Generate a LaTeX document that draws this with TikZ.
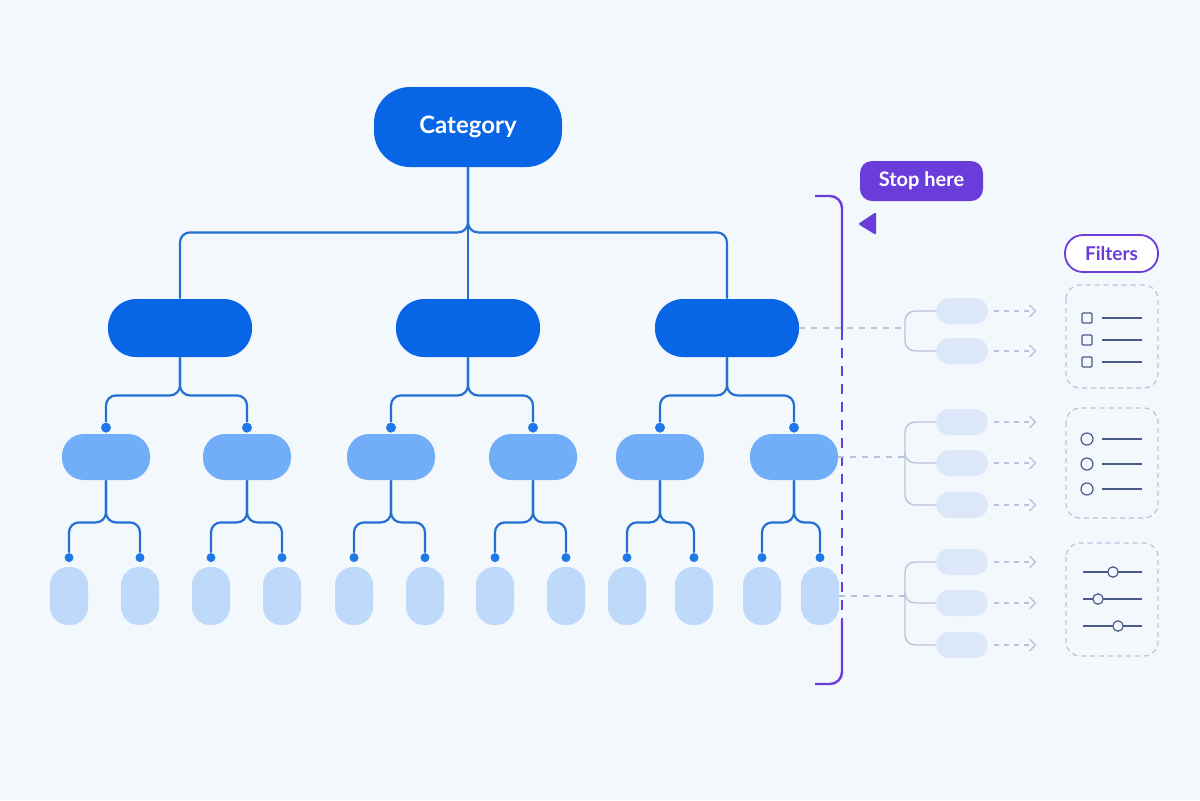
\documentclass[tikz,border=0pt]{standalone}
\usepackage{fontspec}
\setmainfont{Lato}
\usetikzlibrary{arrows.meta,calc}
\definecolor{bgc}{HTML}{F3F8FC}
\definecolor{darkb}{HTML}{0866E6}
\definecolor{midb}{HTML}{72ADF7}
\definecolor{lightb}{HTML}{BED9FA}
\definecolor{paleb}{HTML}{DCE8FA}
\definecolor{lineb}{HTML}{2470D0}
\definecolor{dotb}{HTML}{1F78E8}
\definecolor{purp}{HTML}{6A3DDB}
\definecolor{greyl}{HTML}{B9C3DC}
\definecolor{slate}{HTML}{4A5A8A}
\begin{document}
\begin{tikzpicture}[x=0.5pt,y=-0.5pt]
        \tikzset{
          box/.style={draw=none,inner sep=0pt,text=white,font=\bfseries},
          top/.style={box,fill=darkb,minimum width=94pt,minimum height=40pt,rounded corners=18pt,font=\fontsize{12}{14}\bfseries\selectfont},
          lvla/.style={box,fill=darkb,minimum width=72pt,minimum height=29pt,rounded corners=14pt},
          lvlb/.style={box,fill=midb,minimum width=44pt,minimum height=23pt,rounded corners=11pt},
          lvlc/.style={box,fill=lightb,minimum width=19pt,minimum height=29pt,rounded corners=9pt},
          mini/.style={box,fill=paleb,minimum width=26pt,minimum height=13pt,rounded corners=6.5pt},
          tree/.style={lineb,line width=1.1pt,rounded corners=5pt},
          ftree/.style={greyl,line width=0.7pt,rounded corners=5pt},
          dot/.style={circle,fill=dotb,inner sep=0pt,minimum size=#1},
          icon/.style={slate,line width=0.6pt},
        }
        %BACKGROUND
        \fill[bgc] (0,0) rectangle (1200,800);
        %NODES
        \node[top] (cat) at (468,127) {Category};
        \foreach \x [count=\i] in {180,468,727}{
            \node[lvla] (m\i) at (\x,328) {};
        }
        \foreach \x [count=\i] in {106,247,391,533,660,794}{
            \node[lvlb] (s\i) at (\x,457) {};
            \node[dot=5pt] (ds\i) at ($(s\i.north)+(0,-6)$) {};
        }
        \foreach \x [count=\i] in {69,140,211,282,354,425,495,566,627,694,762,820}{
            \node[lvlc] (t\i) at (\x,596) {};
            \node[dot=4.5pt] (dt\i) at ($(t\i.north)+(0,-9)$) {};
        }
        %TREE
        \draw[tree] (cat.south) -- ++(0,65) -| (m1.north);
        \draw[tree] (cat.south) -- ++(0,65) -| (m3.north);
        \draw[tree] (cat.south) -- (m2.north);
        \foreach \p/\a/\b in {1/1/2,2/3/4,3/5/6}{
            \draw[tree] (m\p.south) -- ++(0,38) -| (ds\a);
            \draw[tree] (m\p.south) -- ++(0,38) -| (ds\b);
        }
        \foreach \p [evaluate=\p as \a using int(2*\p-1), evaluate=\p as \b using int(2*\p)] in {1,...,6}{
            \draw[tree] (s\p.south) -- ++(0,42) -| (dt\a);
            \draw[tree] (s\p.south) -- ++(0,42) -| (dt\b);
        }
        %BRACKET
        \draw[purp,line width=1.2pt,rounded corners=6pt] (815,196) -| (842,330);
        \draw[purp,line width=1.4pt,dash pattern=on 5pt off 4pt] (842,330) -- (842,620);
        \draw[purp,line width=1.2pt,rounded corners=6pt] (842,620) |- (815,684);
        \node[box,fill=purp,minimum width=61.5pt,minimum height=20pt,rounded corners=6pt,font=\fontsize{10}{12}\bfseries\selectfont] (stop) at (921.5,181) {Stop here};
        \fill[purp,rounded corners=1pt] (876,212) -- (858,224) -- (876,235) -- cycle;
        \node[draw=purp,line width=0.9pt,fill=white,text=purp,inner sep=0pt,minimum width=46.5pt,minimum height=18.5pt,rounded corners=9pt,font=\fontsize{9.5}{11}\bfseries\selectfont] (filt) at (1111.5,253.5) {Filters};
        %FILTER TREES
        \coordinate (j1) at (905,328);
        \coordinate (j2) at (905,457);
        \coordinate (j3) at (905,596);
        \draw[greyl,line width=0.8pt,dashed] (m3.east) -- (j1);
        \draw[greyl,line width=0.8pt,dashed] (s6.east) -- (j2);
        \draw[greyl,line width=0.8pt,dashed] (t12.east) -- (j3);
        \foreach \y/\j [count=\i] in {311/1,351/1,422/2,463/2,505/2,562/3,603/3,645/3}{
            \node[mini] (r\i) at (962,\y) {};
            \draw[ftree] (j\j) |- (r\i.west);
            \draw[greyl,line width=0.6pt,dash pattern=on 2.5pt off 2.5pt,-{Straight Barb[length=3pt]}] ($(r\i.east)+(6,0)$) -- ++(42,0);
        }
        %FILTER BOXES
        \foreach \ya/\yb [count=\i] in {285/388,408/518,543/656}{
            \draw[greyl,line width=0.6pt,dash pattern=on 2.5pt off 2pt,rounded corners=7pt] (1066,\ya) rectangle (1158,\yb);
        }
        \foreach \y in {318,340,362}{
            \draw[icon,rounded corners=0.5pt] (1082,\y-5) rectangle (1092,\y+5);
            \draw[icon] (1102,\y) -- (1142,\y);
        }
        \foreach \y in {439,464,489}{
            \draw[icon] (1087,\y) circle (3pt);
            \draw[icon] (1102,\y) -- (1142,\y);
        }
        \foreach \y/\k in {572/1113,599/1098,626/1118}{
            \draw[icon] (1083,\y) -- (1142,\y);
            \draw[icon,fill=bgc] (\k,\y) circle (2.6pt);
        }
    \end{tikzpicture}
\end{document}
